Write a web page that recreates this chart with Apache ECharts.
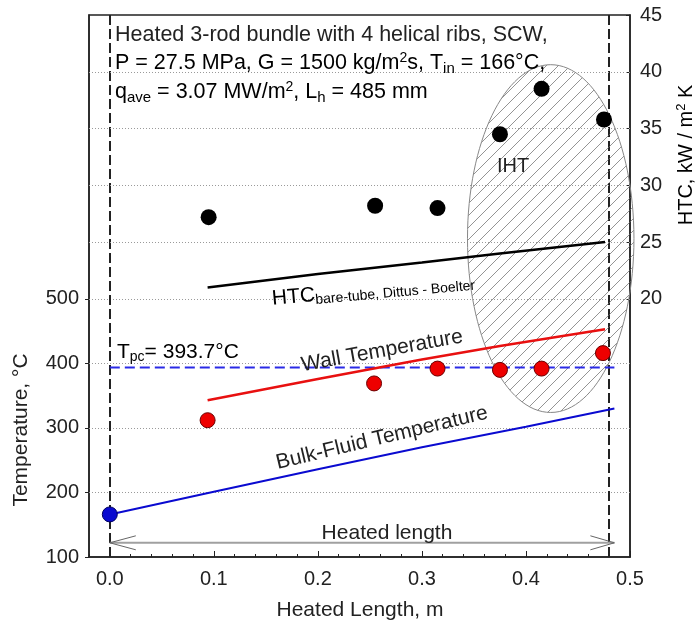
<!DOCTYPE html>
<html><head><meta charset="utf-8">
<script src="https://cdn.jsdelivr.net/npm/echarts@6/dist/echarts.min.js"></script>
<style>html,body{margin:0;padding:0;background:#fff}#c{width:697px;height:622px}</style>
</head><body><div id="c"></div>
<script>
// ---- data ----
const xTickValues = [0, 0.1, 0.2, 0.3, 0.4, 0.5];
const tempTickValues = [100, 200, 300, 400, 500];
const htcTickValues = [20, 25, 30, 35, 40, 45];
const tempGridValues = [200, 300, 400, 500];
const htcGridValues = [25, 30, 35, 40];
const inletX = [0];
const inletT = [166];
const bulkX = [0, 0.1, 0.2, 0.3, 0.4, 0.485];
const bulkT = [166, 201, 236, 270, 302, 330];
const wallLineX = [0.094, 0.2, 0.3, 0.375, 0.476];
const wallLineT = [343, 376, 406, 427, 453];
const wallPtX = [0.094, 0.254, 0.315, 0.375, 0.415, 0.474];
const wallPtT = [312, 369, 392, 390, 392, 416];
const htcPtX = [0.095, 0.255, 0.315, 0.375, 0.415, 0.475];
const htcPt = [27.2, 28.2, 28.0, 34.5, 38.5, 35.8];
const dbX = [0.094, 0.2, 0.3, 0.375, 0.476];
const dbHTC = [21.0, 22.2, 23.2, 24.0, 25.0];
const tpcValue = [393.7];
const heatedLength = [0, 0.485];
const heatedArrowT = [122];
const ihtEllipse = [0.4238, 593.5, 0.08, 269.5]; // centre x, centre T, half-width, half-height (data units)

const FONT = '"Liberation Sans", Arial, sans-serif';
const TXT = '#222';

function zip(a, b) { return a.map((v, i) => [v, b[i]]); }

function hatchCanvas() {
  const c = document.createElement('canvas');
  c.width = 12; c.height = 12;
  const g = c.getContext('2d');
  g.strokeStyle = '#666'; g.lineWidth = 0.7;
  g.beginPath();
  g.moveTo(-1, 13); g.lineTo(13, -1);
  g.moveTo(-1, 1); g.lineTo(1, -1);
  g.moveTo(11, 13); g.lineTo(13, 11);
  g.stroke();
  return c;
}
const hatch = hatchCanvas();

const chart = echarts.init(document.getElementById('c'), null, { renderer: 'canvas' });

const option = {
  animation: false,
  backgroundColor: '#fff',
  grid: { left: 89, right: 67, top: 15, bottom: 65, show: true, borderColor: '#222', borderWidth: 1.5, backgroundColor: 'transparent' },
  xAxis: [
    {
      type: 'value', min: -0.02, max: 0.5, position: 'bottom',
      axisLine: { show: true, onZero: false, lineStyle: { color: '#222', width: 1.5 } },
      axisTick: { show: true, inside: true, length: 6, customValues: xTickValues, lineStyle: { color: '#222' } },
      axisLabel: { customValues: xTickValues, formatter: v => v.toFixed(1), fontSize: 20, fontFamily: FONT, color: TXT, margin: 12 },
      splitLine: { show: false }
    },
    {
      type: 'value', min: -0.02, max: 0.5, interval: 0.02, position: 'bottom',
      axisLine: { show: false, onZero: false },
      axisTick: { show: true, inside: true, length: 3, lineStyle: { color: '#222' } },
      axisLabel: { show: false },
      splitLine: { show: false }
    }
  ],
  yAxis: [
    {
      type: 'value', min: 100, max: 940, position: 'left',
      axisLine: { show: true, onZero: false, lineStyle: { color: '#222', width: 1.5 } },
      axisTick: { show: true, inside: false, length: 4, customValues: tempTickValues, lineStyle: { color: '#222' } },
      axisLabel: { customValues: tempTickValues, fontSize: 20, fontFamily: FONT, color: TXT, margin: 10 },
      splitLine: { show: false }
    },
    {
      type: 'value', min: -2.73, max: 45, position: 'right',
      axisLine: { show: true, onZero: false, lineStyle: { color: '#222', width: 1.5 } },
      axisTick: { show: true, inside: true, length: 4, customValues: htcTickValues, lineStyle: { color: '#222' } },
      axisLabel: { customValues: htcTickValues, fontSize: 20, fontFamily: FONT, color: TXT, margin: 10 },
      splitLine: { show: false }
    }
  ],
  series: [
    {
      type: 'custom', name: 'IHT', xAxisIndex: 0, yAxisIndex: 0, z: 1, silent: true, clip: false,
      data: [ihtEllipse],
      renderItem: function (params, api) {
        const c = api.coord([api.value(0), api.value(1)]);
        const s = api.size([api.value(2), api.value(3)]);
        return {
          type: 'ellipse',
          shape: { cx: c[0], cy: c[1], rx: s[0], ry: s[1] },
          style: { fill: { image: hatch, repeat: 'repeat' }, stroke: '#888', lineWidth: 1 }
        };
      }
    },
    {
      type: 'custom', name: 'heated', xAxisIndex: 0, yAxisIndex: 0, z: 2, silent: true,
      data: [[heatedLength[0], heatedArrowT[0], heatedLength[1]]],
      renderItem: function (params, api) {
        const a = api.coord([api.value(0), api.value(1)]);
        const b = api.coord([api.value(2), api.value(1)]);
        return {
          type: 'group', children: [
            { type: 'line', shape: { x1: a[0], y1: a[1], x2: b[0], y2: b[1] }, style: { stroke: '#a0a0a0', lineWidth: 2 } },
            { type: 'polyline', shape: { points: [[a[0] + 26, a[1] - 7], [a[0], a[1]], [a[0] + 26, a[1] + 7]] }, style: { stroke: '#666', lineWidth: 1, fill: null } },
            { type: 'polyline', shape: { points: [[b[0] - 24, b[1] - 7], [b[0], b[1]], [b[0] - 24, b[1] + 7]] }, style: { stroke: '#666', lineWidth: 1, fill: null } }
          ]
        };
      }
    },
    {
      type: 'line', name: 'Bulk', xAxisIndex: 0, yAxisIndex: 0, z: 3,
      data: zip(bulkX, bulkT), showSymbol: false, symbol: 'none',
      lineStyle: { color: '#0a0ad0', width: 2 },
      markLine: {
        silent: true, symbol: 'none', label: { show: false }, z: 1,
        lineStyle: { type: [1, 2], color: '#9a9a9a', width: 1 },
        data: tempGridValues.map(v => ({ yAxis: v })).concat(
          heatedLength.map(v => ({ xAxis: v, lineStyle: { type: [10, 4], color: '#222', width: 2 } }))
        )
      }
    },
    {
      type: 'line', name: 'Tpc', xAxisIndex: 0, yAxisIndex: 0, z: 3,
      data: [[heatedLength[0], tpcValue[0]], [heatedLength[1], tpcValue[0]]], symbol: 'none',
      lineStyle: { color: '#2a2ae6', width: 2, type: [10, 5] }
    },
    {
      type: 'line', name: 'Wall', xAxisIndex: 0, yAxisIndex: 0, z: 3,
      data: zip(wallLineX, wallLineT), symbol: 'none',
      lineStyle: { color: '#e81010', width: 2.5 }
    },
    {
      type: 'line', name: 'DB', xAxisIndex: 0, yAxisIndex: 1, z: 3,
      data: zip(dbX, dbHTC), symbol: 'none',
      lineStyle: { color: '#000', width: 2.5 },
      markLine: {
        silent: true, symbol: 'none', label: { show: false }, z: 1,
        lineStyle: { type: [1, 2], color: '#9a9a9a', width: 1 },
        data: htcGridValues.map(v => ({ yAxis: v }))
      }
    },
    {
      type: 'scatter', name: 'WallPts', xAxisIndex: 0, yAxisIndex: 0, z: 5,
      data: zip(wallPtX, wallPtT), symbolSize: 15,
      itemStyle: { color: '#ee0000', borderColor: '#6a0000', borderWidth: 1, opacity: 1 }
    },
    {
      type: 'scatter', name: 'HTCPts', xAxisIndex: 0, yAxisIndex: 1, z: 5,
      data: zip(htcPtX, htcPt), symbolSize: 16,
      itemStyle: { color: '#000', opacity: 1 }
    },
    {
      type: 'scatter', name: 'Inlet', xAxisIndex: 0, yAxisIndex: 0, z: 5,
      data: zip(inletX, inletT), symbolSize: 15,
      itemStyle: { color: '#0a0ad0', borderColor: '#000060', borderWidth: 1, opacity: 1 }
    }
  ],
  graphic: [
    { type: 'text', x: 115, y: 35, z: 10, style: { text: 'Heated 3-rod bundle with 4 helical ribs, SCW,', font: '21.5px ' + FONT, fill: TXT, align: 'left', verticalAlign: 'middle' } },
    { type: 'text', x: 115, y: 63, z: 10, style: {
        text: '{a|P = 27.5 MPa, G = 1500 kg/m}{sup|2}{a|s, T}{sub|in}{a| = 166°C,}',
        align: 'left', verticalAlign: 'middle',
        rich: {
          a: { fontSize: 21.5, fontFamily: FONT, color: TXT },
          sup: { fontSize: 14, fontFamily: FONT, color: TXT, padding: [0, 0, 10, 0] },
          sub: { fontSize: 15, fontFamily: FONT, color: TXT, padding: [11, 0, 0, 0] }
        } } },
    { type: 'text', x: 115, y: 92, z: 10, style: {
        text: '{a|q}{sub|ave}{a| = 3.07 MW/m}{sup|2}{a|, L}{sub|h}{a| = 485 mm}',
        align: 'left', verticalAlign: 'middle',
        rich: {
          a: { fontSize: 21.5, fontFamily: FONT, color: TXT },
          sup: { fontSize: 14, fontFamily: FONT, color: TXT, padding: [0, 0, 10, 0] },
          sub: { fontSize: 15, fontFamily: FONT, color: TXT, padding: [11, 0, 0, 0] }
        } } },
    { type: 'text', x: 497, y: 166, z: 10, style: { text: 'IHT', font: '20px ' + FONT, fill: TXT, align: 'left', verticalAlign: 'middle' } },
    { type: 'text', x: 272, y: 299, rotation: 0.09, z: 10, style: {
        text: '{a|HTC}{sub|bare-tube, Dittus - Boelter}',
        align: 'left', verticalAlign: 'middle',
        rich: {
          a: { fontSize: 21, fontFamily: FONT, color: TXT },
          sub: { fontSize: 14, fontFamily: FONT, color: TXT, padding: [10, 0, 0, 0] }
        } } },
    { type: 'text', x: 117, y: 352, z: 10, style: {
        text: '{a|T}{sub|pc}{a|= 393.7°C}',
        align: 'left', verticalAlign: 'middle',
        rich: {
          a: { fontSize: 21, fontFamily: FONT, color: TXT },
          sub: { fontSize: 14, fontFamily: FONT, color: TXT, padding: [11, 0, 0, 0] }
        } } },
    { type: 'text', x: 382, y: 351, rotation: 0.178, z: 10, style: { text: 'Wall Temperature', font: '21px ' + FONT, fill: TXT, align: 'center', verticalAlign: 'middle' } },
    { type: 'text', x: 382, y: 438, rotation: 0.236, z: 10, style: { text: 'Bulk-Fluid Temperature', font: '21px ' + FONT, fill: TXT, align: 'center', verticalAlign: 'middle' } },
    { type: 'text', x: 387, y: 533, z: 10, style: { text: 'Heated length', font: '21px ' + FONT, fill: TXT, align: 'center', verticalAlign: 'middle' } },
    { type: 'text', x: 360, y: 610, z: 10, style: { text: 'Heated Length, m', font: '21px ' + FONT, fill: TXT, align: 'center', verticalAlign: 'middle' } },
    { type: 'text', x: 21, y: 430, rotation: Math.PI / 2, z: 10, style: { text: 'Temperature, °C', font: '21px ' + FONT, fill: TXT, align: 'center', verticalAlign: 'middle' } },
    { type: 'text', x: 686, y: 155, rotation: Math.PI / 2, z: 10, style: {
        text: '{a|HTC, kW / m}{sup|2}{a| K}',
        align: 'center', verticalAlign: 'middle',
        rich: {
          a: { fontSize: 20, fontFamily: FONT, color: TXT },
          sup: { fontSize: 13, fontFamily: FONT, color: TXT, padding: [0, 0, 10, 0] }
        } } }
  ]
};
chart.setOption(option);
</script>
</body></html>
